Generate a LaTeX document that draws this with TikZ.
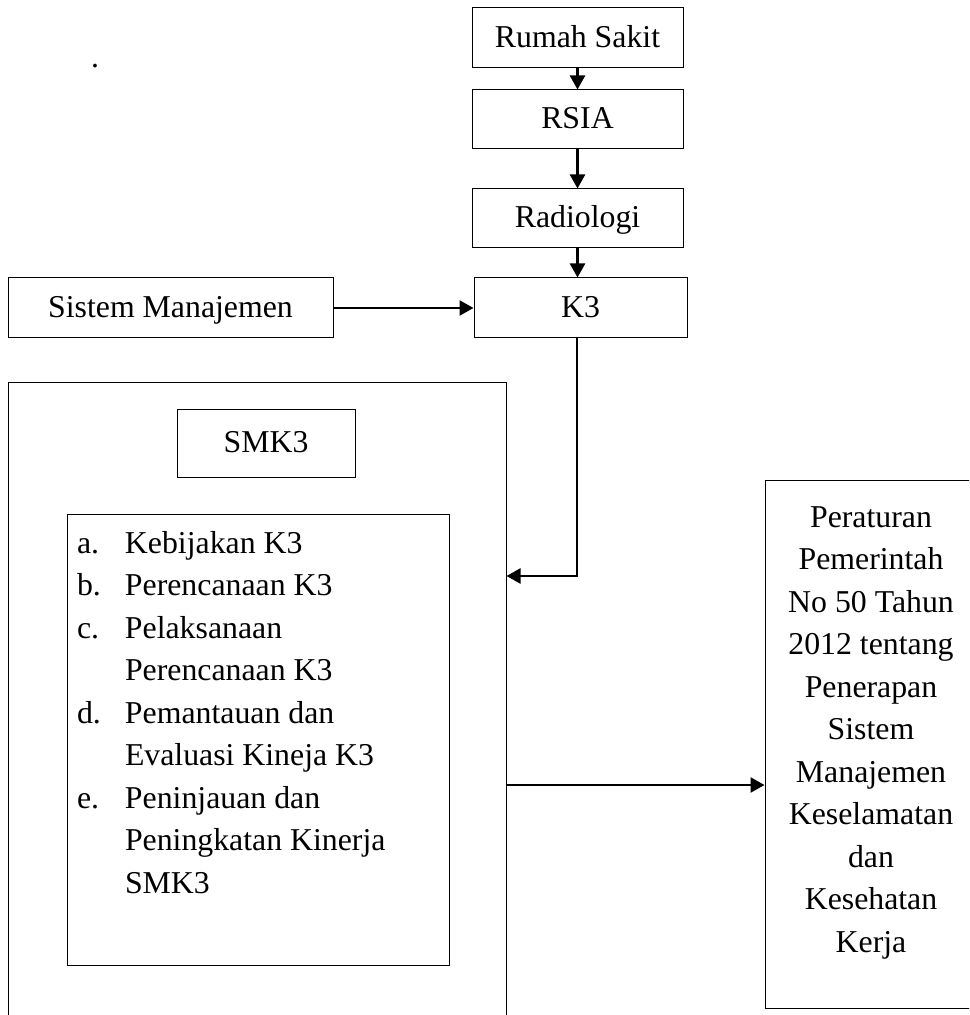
\documentclass[tikz,border=0pt]{standalone}
\usepackage{fontspec}
\setmainfont{Liberation Serif}
\usetikzlibrary{arrows.meta}
\tikzset{
frame/.style={draw, line width=0.5pt, inner sep=0pt},
box/.style={frame, text height=12.5pt, text depth=3pt},
arr/.style={line width=1.2pt, -{Triangle[length=7pt,width=7.5pt]}}
}

\begin{document}
\begin{tikzpicture}[x=0.5pt, y=-0.5pt, every node/.style={font=\fontsize{15.9}{21.25}\selectfont}]
\useasboundingbox (0,0) rectangle (969,1015);
\clip (0,0) rectangle (969,1015);
\node (dot) at (95,66) {.};
\node[box, minimum width=105.5pt, minimum height=30pt] (rs) at (577.5,38) {Rumah Sakit};
\node[box, minimum width=105.5pt, minimum height=29.5pt] (rsia) at (577.5,119.5) {RSIA};
\node[box, minimum width=105.5pt, minimum height=29.5pt] (rad) at (577.5,218.5) {Radiologi};
\node[box, minimum width=106.5pt, minimum height=30pt] (k3) at (580.5,308) {K3};
\node[box, minimum width=162.5pt, minimum height=30pt] (sm) at (170.5,308) {Sistem Manajemen};
\node[frame, minimum width=249pt, minimum height=323.5pt] (outer) at (257,706.5) {};
\node[box, minimum width=89pt, minimum height=34pt] (smk3) at (266,443) {SMK3};
\node[frame] (list) at (258,739.5) {\parbox[c][225.5pt][t]{191pt}{\rule{0pt}{19.5pt}\hspace*{5pt}%
\begin{tabular}[t]{@{}p{24pt}@{}l@{}}
a. & Kebijakan K3\\
b. & Perencanaan K3\\
c. & Pelaksanaan\\
   & Perencanaan K3\\
d. & Pemantauan dan\\
   & Evaluasi Kineja K3\\
e. & Peninjauan dan\\
   & Peningkatan Kinerja\\
   & SMK3
\end{tabular}}};
\node[frame] (pp) at (871,744) {\parbox[c][264pt][t]{106pt}{\centering\rule{0pt}{23.5pt}%
Peraturan\\Pemerintah\\No 50 Tahun\\2012 tentang\\Penerapan\\Sistem\\Manajemen\\Keselamatan\\dan\\Kesehatan\\Kerja}};
% connectors
\coordinate (turn) at (577,576);
\coordinate (lvl) at (0,785);
\draw[arr] (rs.south) -- (rsia.north);
\draw[arr] (rsia.south) -- (rad.north);
\draw[arr] (rad.south) -- (rad.south |- k3.north);
\draw[arr] (sm.east) -- (k3.west);
\draw[arr] (k3.south -| turn) -- (turn) -- (turn -| outer.east);
\draw[arr] (outer.east |- lvl) -- (pp.west |- lvl);
\end{tikzpicture}
\end{document}
